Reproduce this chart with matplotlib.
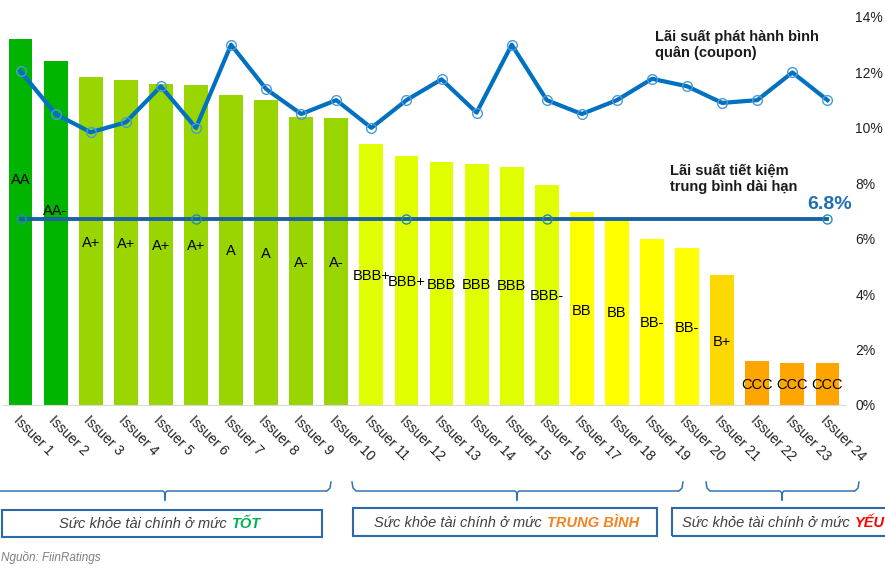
import matplotlib.pyplot as plt
from matplotlib.patches import Rectangle
from matplotlib.lines import Line2D

plt.rcParams['font.family'] = ['Liberation Sans', 'DejaVu Sans']

issuers = ['Issuer %d' % i for i in range(1, 25)]
ratings = ['AA', 'AA-', 'A+', 'A+', 'A+', 'A+', 'A', 'A', 'A-', 'A-',
           'BBB+', 'BBB+', 'BBB', 'BBB', 'BBB', 'BBB-', 'BB', 'BB', 'BB-', 'BB-',
           'B+', 'CCC', 'CCC', 'CCC']
# chiều cao cột (đọc theo thang % bên phải)
bar_values = [13.19, 12.4, 11.85, 11.73, 11.6, 11.55, 11.2, 10.99, 10.4, 10.34,
              9.4, 9.0, 8.76, 8.68, 8.6, 7.93, 6.95, 6.65, 5.98, 5.66,
              4.68, 1.58, 1.51, 1.51]
# lãi suất coupon bình quân
coupon = [12.04, 10.5, 9.84, 10.2, 11.5, 10.0, 13.0, 11.4, 10.5, 11.0,
          10.0, 11.0, 11.75, 10.55, 13.0, 11.0, 10.5, 11.0, 11.77, 11.5,
          10.9, 11.0, 12.0, 11.0]
# lãi suất tiết kiệm trung bình dài hạn
savings = [6.7] * 24
# vị trí nhãn xếp hạng
label_y = [8.12, 7.0, 5.85, 5.81, 5.74, 5.74, 5.56, 5.45, 5.13, 5.13,
           4.66, 4.44, 4.33, 4.33, 4.3, 3.94, 3.39, 3.32, 2.96, 2.78,
           2.27, 0.72, 0.72, 0.72]
yticks = [0, 2, 4, 6, 8, 10, 12, 14]

rating_colors = {'AA': '#00B400', 'AA-': '#00B400',
                 'A+': '#99D500', 'A': '#99D500', 'A-': '#99D500',
                 'BBB+': '#E0FF00', 'BBB': '#E0FF00', 'BBB-': '#E0FF00',
                 'BB': '#FFFF00', 'BB-': '#FFFF00',
                 'B+': '#FFD800', 'CCC': '#FFA500'}

W, H = 885, 569
fig = plt.figure(figsize=(W / 100, H / 100), dpi=100)
ax = fig.add_axes([3 / W, 1 - 405 / H, 842 / W, 388 / H])


def fx(px):
    return px / W


def fy(py):
    return 1 - py / H


x = list(range(len(issuers)))
ax.bar(x, bar_values, width=0.68, color=[rating_colors[r] for r in ratings])
for xi, yi, r in zip(x, label_y, ratings):
    ax.text(xi, yi, r, ha='center', va='center', fontsize=10.5, color='black')

ax.plot(x, savings, color='#1B62A4', lw=2.8, marker='o', markevery=[0, 5, 11, 15, 23],
        ms=6.5, mfc='none', mec='#1F8FB0', mew=1)
ax.plot(x, coupon, color='#0070C0', lw=3, marker='o', ms=7, mfc='none',
        mec='#4A9AD8', mew=1)

ax.set_xlim(-0.5, 23.5)
ax.set_ylim(0, 14)
ax.yaxis.tick_right()
ax.set_yticks(yticks)
ax.set_yticklabels(['%d%%' % v for v in yticks], fontsize=10, color='#222222')
ax.tick_params(axis='y', length=0, pad=7.5)
ax.set_xticks(x)
ax.set_xticklabels(issuers, rotation=-45, ha='left', va='top', rotation_mode='anchor',
                   fontsize=10, color='#222222')
ax.tick_params(axis='x', length=0, pad=6)
for s in ['top', 'left', 'right']:
    ax.spines[s].set_visible(False)
ax.spines['bottom'].set_color('#D9D9D9')

fig.text(fx(655), fy(30), 'Lãi suất phát hành bình\nquân (coupon)', ha='left', va='top',
         fontsize=10.5, fontweight='bold', color='#1A1A1A', linespacing=1.2)
fig.text(fx(670), fy(164), 'Lãi suất tiết kiệm\ntrung bình dài hạn', ha='left', va='top',
         fontsize=10.5, fontweight='bold', color='#1A1A1A', linespacing=1.2)
fig.text(fx(852), fy(204), '6.8%', ha='right', va='center', fontsize=14,
         fontweight='bold', color='#1F6FB5')

# ngoặc nhóm
brace_color = '#2E75B6'
for x0, x1, xc in [(-5, 331, 165), (352, 683, 517), (706, 859, 782)]:
    xs = [x0, x0 + 1, x0 + 4, xc - 2, xc, xc, xc, xc + 2, x1 - 4, x1 - 1, x1]
    ys = [482, 488, 491, 491, 493, 500, 493, 491, 491, 488, 482]
    fig.add_artist(Line2D([fx(v) for v in xs], [fy(v) for v in ys],
                          color=brace_color, lw=1.1))

# hộp chú thích
box_color = '#2E6AA8'
groups = [(2, 510, 320, 27, 'TỐT', '#00B050', 227),
          (353, 508, 304, 28, 'TRUNG BÌNH', '#F58220', 542),
          (672, 508, 240, 28, 'YẾU', '#FF0000', 850)]
for bx, by, bw, bh, word, wc, split in groups:
    fig.add_artist(Rectangle((fx(bx), fy(by + bh)), bw / W, bh / H, fill=False,
                             ec=box_color, lw=1.5))
    fig.text(fx(split), fy(by + bh / 2 + 1), 'Sức khỏe tài chính ở mức', ha='right',
             va='center', fontsize=10.5, style='italic', color='#404040')
    fig.text(fx(split + 5), fy(by + bh / 2 + 1), word, ha='left', va='center',
             fontsize=10.5, style='italic', fontweight='bold', color=wc)

fig.text(fx(1), fy(558), 'Nguồn: FiinRatings', ha='left', va='center', fontsize=8.5,
         style='italic', color='#7F7F7F')

fig.savefig('out.png', dpi=100)
